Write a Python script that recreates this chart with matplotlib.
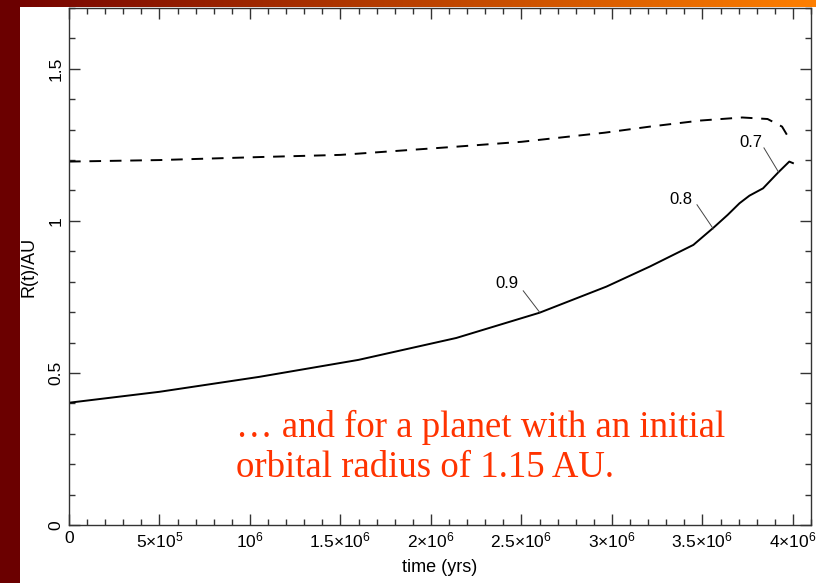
import numpy as np
import matplotlib
matplotlib.use('Agg')
import matplotlib.pyplot as plt
from matplotlib.ticker import FixedLocator, MultipleLocator

plt.rcParams['font.family'] = ['Liberation Sans', 'DejaVu Sans']
plt.rcParams['mathtext.default'] = 'regular'

# Data
solid_t = [0, 0.5e6, 1.05e6, 1.6e6, 2.14e6, 2.6e6, 2.97e6, 3.21e6, 3.45e6,
           3.56e6, 3.64e6, 3.705e6, 3.76e6, 3.835e6, 3.92e6, 3.98e6, 4.0e6]
solid_r = [0.402, 0.438, 0.487, 0.543, 0.615, 0.698, 0.784, 0.85, 0.921,
           0.977, 1.02, 1.058, 1.083, 1.107, 1.16, 1.195, 1.19]

dash_t = [0, 0.5e6, 1.06e6, 1.5e6, 2.14e6, 2.5e6, 2.96e6, 3.21e6, 3.49e6,
          3.72e6, 3.86e6, 3.94e6, 3.97e6]
dash_r = [1.195, 1.20, 1.21, 1.217, 1.244, 1.26, 1.29, 1.31, 1.33,
          1.34, 1.335, 1.31, 1.28]

# contour-style labels: text, label centre, leader start, leader end
marks = ['0.9', '0.8', '0.7']
mark_txt = [(2.42e6, 0.793), (3.38e6, 1.069), (3.77e6, 1.257)]
lead_from = [(2.51e6, 0.77), (3.47e6, 1.053), (3.84e6, 1.24)]
lead_to = [(2.6e6, 0.70), (3.56e6, 0.974), (3.92e6, 1.161)]

xticks = [0, 5e5, 1e6, 1.5e6, 2e6, 2.5e6, 3e6, 3.5e6, 4e6]
xlabels = ['0', r'$5{\times}10^5$', r'$10^6$', r'$1.5{\times}10^6$', r'$2{\times}10^6$',
           r'$2.5{\times}10^6$', r'$3{\times}10^6$', r'$3.5{\times}10^6$', r'$4{\times}10^6$']
yticks = [0, 0.5, 1, 1.5]
ylabels = ['0', '0.5', '1', '1.5']

W, H = 816, 583
fig = plt.figure(figsize=(W / 100, H / 100), dpi=100)

# slide background: dark red left strip, red->orange top strip, white page
bg = fig.add_axes([0, 0, 1, 1])
img = np.ones((H, W, 3))
grad = np.linspace(0, 1, W)[:, None]
c0 = np.array([0.45, 0.0, 0.0])
c1 = np.array([1.0, 0.5, 0.0])
img[:7, :, :] = (c0 + grad * (c1 - c0))[None, :, :]
img[:, :20, :] = np.array([0.42, 0.0, 0.0])
bg.imshow(img, aspect='auto', interpolation='nearest')
bg.axis('off')

ax = fig.add_axes([69 / W, (H - 525) / H, (811 - 69) / W, (525 - 8) / H])
ax.patch.set_alpha(0)

ax.plot(solid_t, solid_r, color='black', lw=1.4)
ax.plot(dash_t, dash_r, color='black', lw=1.4, dashes=(6, 4.5))

for lab, q, a, b in zip(marks, mark_txt, lead_from, lead_to):
    ax.text(q[0], q[1], lab, fontsize=12, ha='center', va='center')
    ax.plot([a[0], b[0]], [a[1], b[1]], color='#444444', lw=0.7)

ax.set_xlim(0, 4.1e6)
ax.set_ylim(0, 1.7)
ax.xaxis.set_major_locator(FixedLocator(xticks))
ax.set_xticklabels(xlabels, fontsize=12.5)
ax.xaxis.set_minor_locator(MultipleLocator(1e5))
ax.yaxis.set_major_locator(FixedLocator(yticks))
ax.set_yticklabels(ylabels, fontsize=12.5, rotation=90, va='center')
ax.yaxis.set_minor_locator(MultipleLocator(0.1))
ax.tick_params(which='both', direction='in', top=True, right=True, color='#333333')
ax.tick_params(which='major', length=8, width=1, pad=4)
ax.tick_params(which='minor', length=4, width=1)
for s in ax.spines.values():
    s.set_color('#333333')
    s.set_linewidth(1)

ax.set_xlabel('time (yrs)', fontsize=13, labelpad=6)
ax.set_ylabel('R(t)/AU', fontsize=13, labelpad=8)

fig.text(236 / W, 1 - 477 / H, '\u2026 and for a planet with an initial\norbital radius of 1.15 AU.',
         fontsize=26.5, family='Liberation Serif', color='#ff3300',
         ha='left', va='baseline', linespacing=1.2)

fig.savefig('out.png', dpi=100)
